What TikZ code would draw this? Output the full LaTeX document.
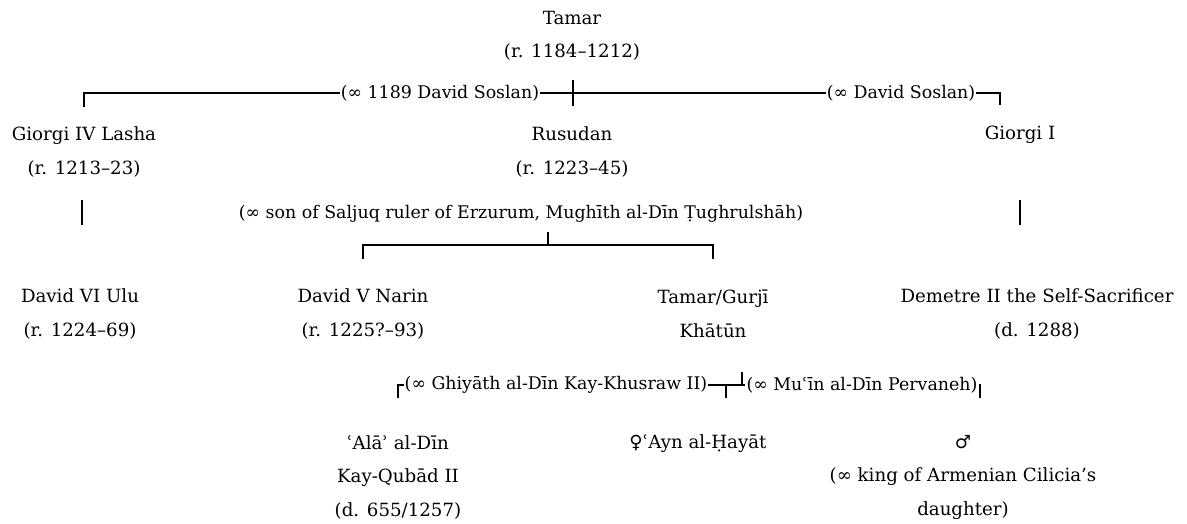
\documentclass[tikz,border=0pt]{standalone}
\usepackage{fontspec}
\setmainfont{DejaVu Serif}
\newfontfamily\symbfont{DejaVu Sans}
\usepackage{tikz}
\tikzset{
  person/.style={align=center, inner sep=0pt, font=\fontsize{18.2}{33.5}\selectfont},
  union/.style={inner sep=1pt, font=\fontsize{17.4}{33}\selectfont},
  tree/.style={line width=1.3pt},
}

\begin{document}
\begin{tikzpicture}[x=1pt, y=-1pt]
  \useasboundingbox (0,0) rectangle (1187,523);
  % people
  \node[person] (tamar) at (572,36) {Tamar\\(r. 1184–1212)};
  \node[person] (lasha) at (84,152) {Giorgi IV Lasha\\(r. 1213–23)};
  \node[person] (rusudan) at (572,152) {Rusudan\\(r. 1223–45)};
  \node[person] (giorgi) at (1020,135) {Giorgi I};
  \node[person] (ulu) at (80,314) {David VI Ulu\\(r. 1224–69)};
  \node[person] (narin) at (363,314) {David V Narin\\(r. 1225?–93)};
  \node[person] (gurji) at (713,314) {Tamar/Gurjī\\Khātūn};
  \node[person] (demetre) at (1037,314) {Demetre II the Self-Sacrificer\\(d. 1288)};
  \node[person] (alaeddin) at (398,477) {ʿAlāʾ al-Dīn\\Kay-Qubād II\\(d. 655/1257)};
  \node[person] (ayn) at (698,444) {{\symbfont ♀}ʿAyn al-Ḥayāt};
  \node[person] (son) at (963,477) {{\symbfont ♂}\\(∞ king of Armenian Cilicia’s\\daughter)};
  % marriages
  \node[union] (soslanA) at (440,93) {(∞ 1189 David Soslan)};
  \node[union] (soslanB) at (901,93) {(∞ David Soslan)};
  \node[union] (tughrul) at (521,214) {(∞ son of Saljuq ruler of Erzurum, Mughīth al-Dīn Ṭughrulshāh)};
  \node[union] (khusraw) at (556,385) {(∞ Ghiyāth al-Dīn Kay-Khusraw II)};
  \node[union] (pervaneh) at (862,385) {(∞ Muʿīn al-Dīn Pervaneh)};
  % tick ends
  \coordinate (lashaTop) at (84,107);
  \coordinate (giorgiTop) at (1000,105);
  \coordinate (tamarDown) at (573,80);
  \coordinate (rusudanUp) at (573,106);
  \coordinate (lashaA) at (82,200);
  \coordinate (lashaB) at (82,225);
  \coordinate (giorgiA) at (1020,200);
  \coordinate (giorgiB) at (1020,225);
  \coordinate (kidsUp) at (548,232);
  \coordinate (kidsBar) at (548,245);
  \coordinate (narinTop) at (363,259);
  \coordinate (gurjiTop) at (713,259);
  \coordinate (alaTop) at (398,398);
  \coordinate (aynJoin) at (726,385);
  \coordinate (aynTop) at (726,398);
  \coordinate (gurjiJoin) at (742,385);
  \coordinate (gurjiUp) at (742,372);
  \coordinate (sonTop) at (980,398);
  % lines
  \draw[tree] (lashaTop) |- (soslanA.west);
  \draw[tree] (soslanA.east) -- (soslanB.west);
  \draw[tree] (soslanB.east) -| (giorgiTop);
  \draw[tree] (tamarDown) -- (rusudanUp);
  \draw[tree] (lashaA) -- (lashaB);
  \draw[tree] (giorgiA) -- (giorgiB);
  \draw[tree] (kidsUp) -- (kidsBar);
  \draw[tree] (narinTop) |- (kidsBar) -| (gurjiTop);
  \draw[tree] (alaTop) |- (khusraw.west);
  \draw[tree] (khusraw.east) -- (pervaneh.west);
  \draw[tree] (aynJoin) -- (aynTop);
  \draw[tree] (gurjiJoin) -- (gurjiUp);
  \draw[tree] (pervaneh.east) -| (sonTop);
\end{tikzpicture}
\end{document}
